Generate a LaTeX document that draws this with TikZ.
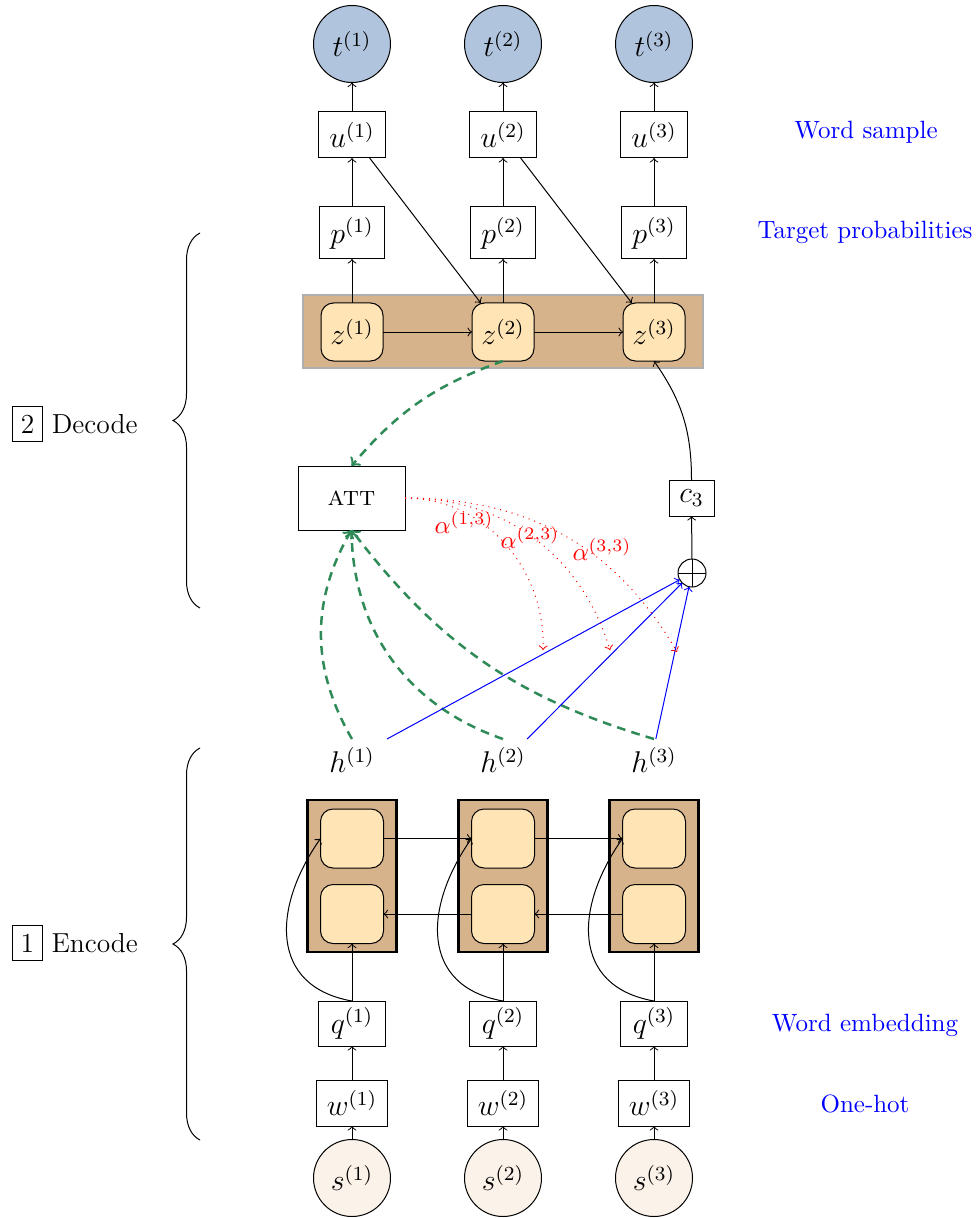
\documentclass[tikz,border=0pt]{standalone}
\usetikzlibrary{decorations.pathreplacing}
\definecolor{tanC}{RGB}{215,179,140}
\definecolor{mocC}{RGB}{255,228,181}
\definecolor{lsbC}{RGB}{176,196,222}
\definecolor{linC}{RGB}{251,242,234}
\definecolor{sgreen}{RGB}{46,139,87}
\definecolor{bandgray}{RGB}{175,175,175}
\begin{document}
\begin{tikzpicture}[x=0.4pt,y=0.4pt,
  every node/.style={inner sep=0pt, outer sep=0pt},
  mathbox/.style={draw, font=\large},
  tnode/.style={draw, circle, fill=lsbC, minimum size=30.8pt, font=\large},
  snode/.style={draw, circle, fill=linC, minimum size=30.8pt, font=\large},
  zbox/.style={draw, rounded corners=5pt, fill=mocC, minimum width=24.8pt, minimum height=23.2pt, font=\large},
  encbox/.style={draw, line width=1.1pt, fill=tanC, minimum width=35.6pt, minimum height=60.8pt},
  cell/.style={draw, rounded corners=5pt, fill=mocC, minimum width=25.2pt, minimum height=23.6pt},
  hnode/.style={minimum width=28pt, minimum height=16.8pt, font=\large},
  gdash/.style={draw=sgreen, line width=1pt, dash pattern=on 3.5pt off 2.5pt},
  reddot/.style={draw=red, dotted},
  sidelabel/.style={text=blue},
  bracestyle/.style={decorate, decoration={brace, amplitude=10.8pt}},
]
\useasboundingbox (0,0) rectangle (978,-1218);

% decoder band
\node[draw=bandgray, line width=1pt, fill=tanC, minimum width=160pt, minimum height=29.2pt] (band) at (503,-331.5) {};

\foreach \i/\x in {1/352,2/503,3/654}{
  \node[tnode] (t\i) at (\x,-44) {$t^{(\i)}$};
  \node[mathbox, minimum width=26.8pt, minimum height=18.4pt] (u\i) at (\x,-135) {$u^{(\i)}$};
  \node[mathbox, minimum width=26pt, minimum height=20.8pt] (p\i) at (\x,-233) {$p^{(\i)}$};
  \node[zbox] (z\i) at (\x,-332) {$z^{(\i)}$};
  \node[hnode] (h\i) at (\x,-760) {$h^{(\i)}$};
  \node[encbox] (e\i) at (\x,-876) {};
  \node[cell] (et\i) at (\x,-838.5) {};
  \node[cell] (eb\i) at (\x,-914) {};
  \node[mathbox, minimum width=26.8pt, minimum height=18pt] (q\i) at (\x,-1023.5) {$q^{(\i)}$};
  \node[mathbox, minimum width=28.4pt, minimum height=18.4pt] (w\i) at (\x,-1103) {$w^{(\i)}$};
  \node[snode] (s\i) at (\x,-1178) {$s^{(\i)}$};
  \draw[->] (u\i) -- (t\i);
  \draw[->] (p\i) -- (u\i);
  \draw[->] (z\i) -- (p\i);
  \draw[->] (q\i.north) -- (eb\i.south);
  \draw[->] (q\i.north) to[out=170,in=235,looseness=1.3] (et\i.west);
  \draw[->] (w\i) -- (q\i);
  \draw[->] (s\i) -- (w\i);
}

\draw[->] (z1) -- (z2);
\draw[->] (z2) -- (z3);
\draw[->] (u1) -- (z2);
\draw[->] (u2) -- (z3);

\draw[->] (et1.east) -- (et2.west);
\draw[->] (et2.east) -- (et3.west);
\draw[->] (eb2.west) -- (eb1.east);
\draw[->] (eb3.west) -- (eb2.east);

% attention
\node[draw, minimum width=42.8pt, minimum height=25.6pt, font=\fontsize{11}{13}\selectfont] (att) at (351.5,-498) {\textsc{att}};
\node[mathbox, minimum width=18pt, minimum height=14.4pt] (c3) at (691.5,-498) {$c_3$};
\node[draw, circle, minimum size=11.2pt] (op) at (692,-573) {};
\draw (op.north) -- (op.south) (op.west) -- (op.east);

\draw[->] (op) -- (c3);
\draw[->] (c3.north) to[out=90,in=-55] (z3.south);

\draw[gdash,->] (z2.south) to[bend right=15] (att.north);
\draw[gdash,->] (h1.north) to[bend left=30] (att.south);
\draw[gdash,->] (h2.north) to[bend left=35] (att.south);
\draw[gdash,->] (h3.north) to[bend left=18] (att.south);

\draw[blue,->] (h1.north east) -- (op);
\draw[blue,->] (h2.41) -- (op);
\draw[blue,->] (h3.85) -- (op);

\coordinate (a1) at (543,-650);
\coordinate (a2) at (610,-650);
\coordinate (a3) at (677,-652);
\draw[reddot,->] (att.east) to[out=0,in=88] (a1);
\draw[reddot,->] (att.east) to[out=0,in=107] (a2);
\draw[reddot,->] (att.east) to[out=0,in=120] (a3);
\node[text=red] (l1) at (464,-522) {$\alpha^{(1,3)}$};
\node[text=red] (l2) at (530,-537) {$\alpha^{(2,3)}$};
\node[text=red] (l3) at (602,-549) {$\alpha^{(3,3)}$};

% braces
\coordinate (db1) at (200,-608);
\coordinate (db2) at (200,-233);
\coordinate (eb1c) at (200,-1140);
\coordinate (eb2c) at (200,-748);
\draw[bracestyle] (db1) -- (db2);
\draw[bracestyle] (eb1c) -- (eb2c);
\node[font=\fontsize{11}{13}\selectfont] (dec) at (75,-424) {\fbox{2} Decode};
\node[font=\fontsize{11}{13}\selectfont] (enc) at (75,-943) {\fbox{1} Encode};

% side labels
\node[sidelabel] (ws) at (866,-132) {Word sample};
\node[sidelabel] (tp) at (865,-232) {Target probabilities};
\node[sidelabel] (we) at (865,-1025) {Word embedding};
\node[sidelabel] (oh) at (865,-1104) {One-hot};
\end{tikzpicture}
\end{document}
